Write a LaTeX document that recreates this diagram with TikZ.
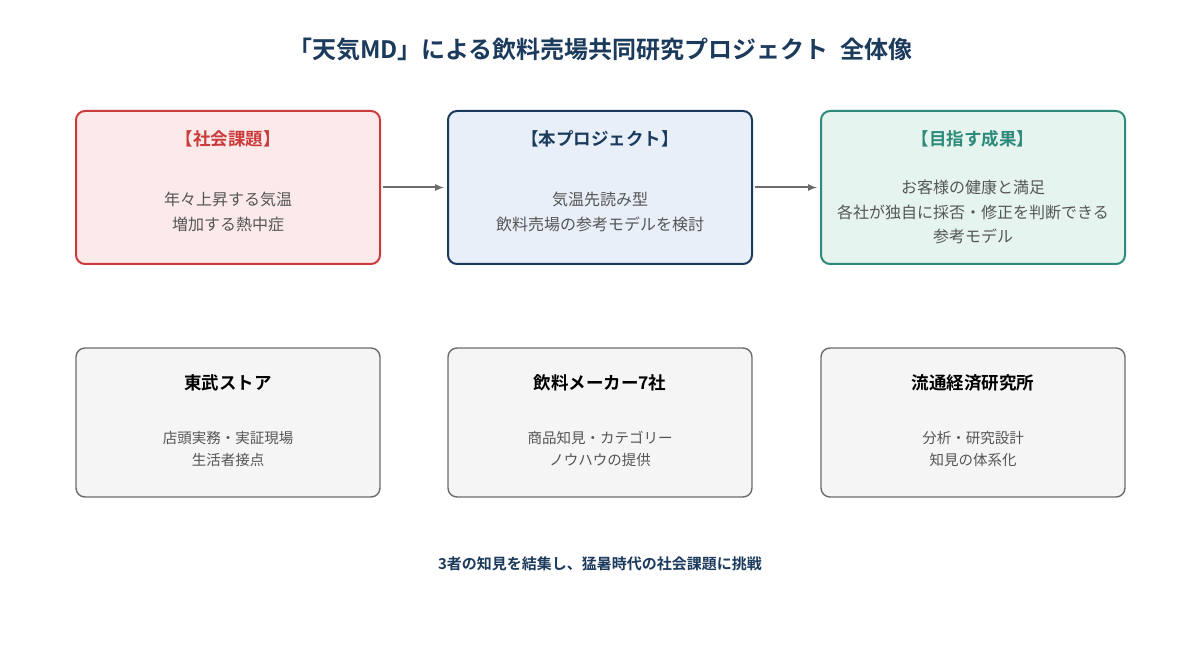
\documentclass[tikz,border=0pt]{standalone}
\usepackage{fontspec}
\setmainfont{Noto Sans CJK JP}[BoldFont={Noto Sans CJK JP Bold}]
\usepackage{tikz}
\usetikzlibrary{arrows,positioning}

\definecolor{navy}{HTML}{1B3A5C}
\definecolor{redline}{HTML}{CC3B3B}
\definecolor{redfill}{HTML}{FCEAEA}
\definecolor{bluefill}{HTML}{E8EFF8}
\definecolor{tealline}{HTML}{2E8B7A}
\definecolor{tealfill}{HTML}{E6F4F0}
\definecolor{grayline}{HTML}{6B6B6B}
\definecolor{grayfill}{HTML}{F5F5F5}
\definecolor{bodytext}{HTML}{555555}

\begin{document}
\begin{tikzpicture}[x=1pt, y=-1pt, thick,
    box/.style = {draw, rounded corners=9pt, minimum width=304pt, minimum height=153pt, line width=2pt},
    member/.style = {draw=grayline, fill=grayfill, rounded corners=9pt, minimum width=304pt, minimum height=149pt, line width=1.4pt},
    head/.style = {font=\fontsize{17.5}{20}\selectfont\bfseries},
    body/.style = {align=center, text=bodytext, font=\fontsize{16}{24.5}\selectfont},
    small/.style = {align=center, text=bodytext, font=\fontsize{14.5}{22.5}\selectfont},
    flow/.style = {-latex, draw=grayline, line width=2pt}]
    \useasboundingbox (0,0) rectangle (1200,655);

    \node[text=navy, font=\fontsize{24}{28}\selectfont\bfseries] (title) at (600.5,50) {「天気MD」による飲料売場共同研究プロジェクト\hspace{0.5em}全体像};

    % top row
    \node[box, draw=redline, fill=redfill] (issue) at (228,187.5) {};
    \node[box, draw=navy, fill=bluefill] (project) [right=66pt of issue] {};
    \node[box, draw=tealline, fill=tealfill] (goal) [right=67pt of project] {};

    \node[head, text=redline] (issuehead) at (228,139) {【社会課題】};
    \node[body] (issuebody) at (228,212) {年々上昇する気温\\増加する熱中症};
    \node[head, text=navy] (projecthead) at (600,139) {【本プロジェクト】};
    \node[body] (projectbody) at (600,212) {気温先読み型\\飲料売場の参考モデルを検討};
    \node[head, text=tealline] (goalhead) at (973,139) {【目指す成果】};
    \node[body] (goalbody) at (973,212) {お客様の健康と満足\\各社が独自に採否・修正を判断できる\\参考モデル};

    \draw[flow, shorten <=2pt, shorten >=3pt] (issue) -- (project);
    \draw[flow, shorten <=2pt, shorten >=3pt] (project) -- (goal);

    % bottom row
    \node[member] (store) at (228,422.5) {};
    \node[member] (maker) [right=66.6pt of store] {};
    \node[member] (institute) [right=67.6pt of maker] {};

    \node[head] (storehead) at (228,383) {東武ストア};
    \node[small] (storebody) at (228,449) {店頭実務・実証現場\\生活者接点};
    \node[head] (makerhead) at (600,383) {飲料メーカー7社};
    \node[small] (makerbody) at (600,449) {商品知見・カテゴリー\\ノウハウの提供};
    \node[head] (institutehead) at (973,383) {流通経済研究所};
    \node[small] (institutebody) at (973,449) {分析・研究設計\\知見の体系化};

    \node[text=navy, font=\fontsize{15}{18}\selectfont\bfseries] (summary) at (600,564) {3者の知見を結集し、猛暑時代の社会課題に挑戦};
\end{tikzpicture}
\end{document}
